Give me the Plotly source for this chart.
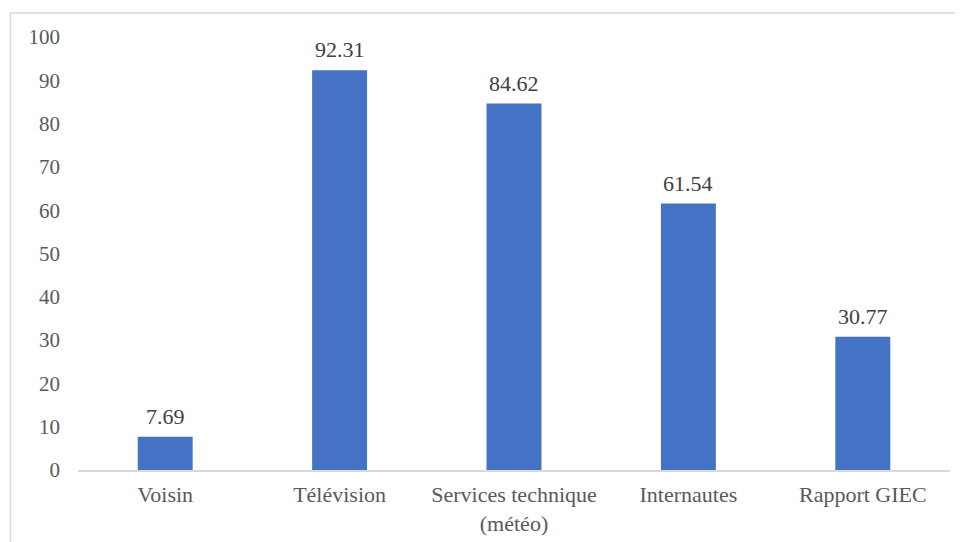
import plotly.graph_objects as go

categories = ["Voisin", "Télévision", "Services technique<br>(météo)", "Internautes", "Rapport GIEC"]
values = [7.69, 92.31, 84.62, 61.54, 30.77]
value_labels = ["7.69", "92.31", "84.62", "61.54", "30.77"]
y_ticks = [0, 10, 20, 30, 40, 50, 60, 70, 80, 90, 100]

font_family = "Liberation Serif"

fig = go.Figure(go.Bar(
    x=categories, y=values,
    marker=dict(color="#4472C4", line=dict(width=0)),
    hoverinfo="x+y",
))

annotations = [
    dict(x=c, y=v, text=t, xref="x", yref="y", showarrow=False,
         yanchor="bottom", yshift=6,
         font=dict(family=font_family, size=22, color="#404040"))
    for c, v, t in zip(categories, values, value_labels)
]

fig.update_layout(
    width=955, height=534,
    margin=dict(l=70, r=13, t=29, b=72),
    paper_bgcolor="white", plot_bgcolor="white",
    bargap=0.685,
    showlegend=False,
    font=dict(family=font_family, size=22, color="#595959"),
    annotations=annotations,
    shapes=[dict(type="rect", xref="paper", yref="paper",
                 x0=-0.0775, x1=1.05, y0=-0.3, y1=1.0555,
                 line=dict(color="#D9D9D9", width=1.5), fillcolor="rgba(0,0,0,0)", layer="below")],
)
fig.update_xaxes(showline=True, linecolor="#D9D9D9", linewidth=1.5, ticks="",
                 ticklabelstandoff=4, automargin=False,
                 tickfont=dict(family=font_family, size=22, color="#595959"),
                 showgrid=False)
fig.update_yaxes(range=[0, 100], tickvals=y_ticks, showgrid=False, zeroline=False,
                 showline=False, ticks="", ticklabelstandoff=17, automargin=False,
                 tickfont=dict(family=font_family, size=21, color="#595959"))

fig.write_html("out.html")
